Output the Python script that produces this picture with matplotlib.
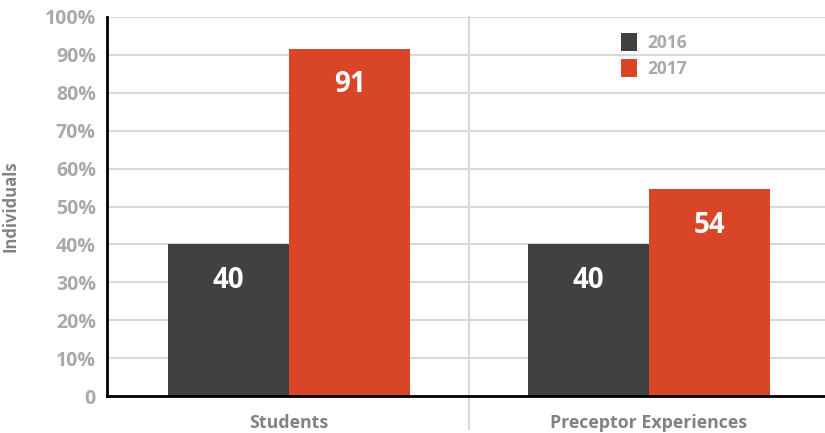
import matplotlib
matplotlib.use("Agg")
import matplotlib.pyplot as plt
import numpy as np

categories = ["Students", "Preceptor Experiences"]
series_names = ["2016", "2017"]
values_2016 = [40, 40]
values_2017 = [91.6, 54.6]
labels_2016 = ["40", "40"]
labels_2017 = ["91", "54"]
yticks = [0, 10, 20, 30, 40, 50, 60, 70, 80, 90, 100]
ytick_labels = ["0", "10%", "20%", "30%", "40%", "50%", "60%", "70%", "80%", "90%", "100%"]

c2016 = "#414042"
c2017 = "#d84527"
grid_c = "#d9d9d9"
tick_c = "#a7a9ac"
lab_c = "#808285"

plt.rcParams['font.family'] = ['Open Sans', 'DejaVu Sans']

fig = plt.figure(figsize=(8.25, 4.33), dpi=100)
ax = fig.add_axes([107/825, 1-396/433, 718/825, 379/433])

x = np.arange(len(categories))
w = 0.336
b1 = ax.bar(x - w/2, values_2016, w, color=c2016, zorder=3, label=series_names[0])
b2 = ax.bar(x + w/2, values_2017, w, color=c2017, zorder=3, label=series_names[1])

for rects, labs in ((b1, labels_2016), (b2, labels_2017)):
    for r, t in zip(rects, labs):
        ax.text(r.get_x() + r.get_width()/2, r.get_height() - 9.5, t,
                ha='center', va='center', color='white', fontsize=20,
                fontweight='bold', zorder=4)

ax.set_xlim(-0.506, 1.489)
ax.set_ylim(0, 100)
ax.set_yticks(yticks)
ax.set_yticklabels(ytick_labels)
ax.tick_params(axis='y', length=0, pad=8, labelsize=14, labelcolor=tick_c)
for t in ax.get_yticklabels():
    t.set_fontweight('bold')
ax.set_xticks(x)
ax.set_xticklabels(categories)
ax.tick_params(axis='x', length=0, pad=13, labelsize=12.8, labelcolor=lab_c)
for t in ax.get_xticklabels():
    t.set_fontweight('bold')

ax.yaxis.grid(True, color=grid_c, linewidth=1.5, zorder=0)
ax.set_axisbelow(True)
for s in ['top', 'right']:
    ax.spines[s].set_visible(False)
ax.spines['left'].set_linewidth(2)
ax.spines['bottom'].set_linewidth(2)
ax.spines['left'].set_color('black')
ax.spines['bottom'].set_color('black')
ax.spines['left'].set_zorder(5)
ax.spines['bottom'].set_zorder(5)

ax.plot([0.5, 0.5], [100, -8.7], color=grid_c, linewidth=1.5, clip_on=False, zorder=1)

ax.set_ylabel("Individuals", fontsize=12, color=lab_c, fontweight='bold', labelpad=10)
ax.yaxis.set_label_coords(-0.122, 0.5)

leg = ax.legend(loc='upper left', bbox_to_anchor=(0.694, 1.0), frameon=False,
                handlelength=0.95, handleheight=1.25, handletextpad=0.55,
                labelspacing=0.4, prop={'family': ['Open Sans', 'DejaVu Sans'],
                                        'weight': 'bold', 'size': 12.5})
for t in leg.get_texts():
    t.set_color(tick_c)

fig.savefig("out.png", dpi=100)
